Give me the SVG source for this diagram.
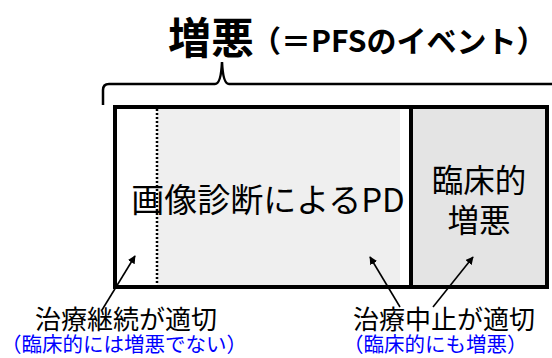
<svg xmlns="http://www.w3.org/2000/svg" width="552" height="358" viewBox="0 0 552 358">
<defs>
<style>
.t{font-family:"Noto Sans CJK JP","Noto Sans",sans-serif;fill:#000}
.b{font-weight:bold}
.blue{fill:#0000ff}
.arr{stroke:#000;stroke-width:1.6;fill:none;marker-end:url(#ah)}
</style>
<marker id="ah" viewBox="0 0 10 10" refX="9" refY="5" markerWidth="8" markerHeight="8" markerUnits="userSpaceOnUse" orient="auto"><path d="M0,0 L10,5 L0,10 z" fill="#000"/></marker>
</defs>
<rect width="552" height="358" fill="#fff"/>
<g id="title">
<text class="t b" x="168" y="54" font-size="43">増悪</text>
<text class="t b" x="251" y="52" font-size="30">（＝PFSのイベント）</text>
</g>
<g id="brace">
<path d="M103,105 V90 Q103,84 109,84 H215 Q221,84 222,62 Q223,84 229,84 H552" fill="none" stroke="#000" stroke-width="2.5"/>
</g>
<g id="box">
<rect x="115" y="107" width="432" height="180" fill="#fff"/>
<rect x="157" y="109" width="243" height="176" fill="#efefef"/>
<rect x="411" y="107" width="136" height="180" fill="#e4e4e4"/>
<line x1="157" y1="109" x2="157" y2="285" stroke="#000" stroke-width="2.5" stroke-dasharray="2,2"/>
<rect x="115" y="107" width="432" height="180" fill="none" stroke="#000" stroke-width="4"/>
<line x1="411" y1="107" x2="411" y2="287" stroke="#000" stroke-width="4"/>
</g>
<g id="pd">
<text class="t" x="268" y="212" font-size="33" text-anchor="middle">画像診断によるPD</text>
</g>
<g id="clinical">
<text class="t" x="479" y="192" font-size="31.5" text-anchor="middle">臨床的</text>
<text class="t" x="479" y="232" font-size="31.5" text-anchor="middle">増悪</text>
</g>
<g id="connectors">
<line class="arr" x1="102" y1="310" x2="135" y2="256"/>
<line class="arr" x1="400" y1="307" x2="370" y2="257"/>
<line class="arr" x1="433" y1="307" x2="473" y2="257"/>
</g>
<g id="label-continue">
<text class="t" x="35" y="329" font-size="26">治療継続が適切</text>
<text class="t blue" x="1" y="352" font-size="20.5">（臨床的には増悪でない）</text>
</g>
<g id="label-stop">
<text class="t" x="353" y="329" font-size="26">治療中止が適切</text>
<text class="t blue" x="343" y="352" font-size="20.5">（臨床的にも増悪）</text>
</g>
</svg>
